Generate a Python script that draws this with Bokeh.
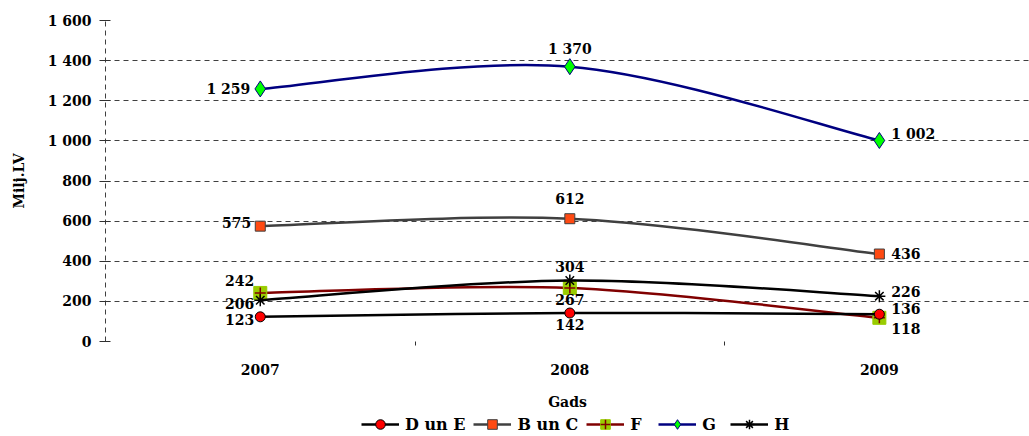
from bokeh.plotting import figure
from bokeh.layouts import column
from bokeh.models import Range1d, FixedTicker, Legend, LegendItem
from bokeh.core.properties import value
from bokeh.embed import file_html
from bokeh.resources import INLINE

# ---------------- data ----------------
years = ["2007", "2008", "2009"]
d_un_e = [123, 142, 136]
b_un_c = [575, 612, 436]
f_vals = [242, 267, 118]
g_vals = [1259, 1370, 1002]
h_vals = [206, 304, 226]
y_ticks = [0, 200, 400, 600, 800, 1000, 1200, 1400, 1600]
y_tick_labels = ["0", "200", "400", "600", "800", "1 000", "1 200", "1 400", "1 600"]
series_names = ["D un E", "B un C", "F", "G", "H"]

FONT = "DejaVu Serif"

def fmt(v):
    return f"{v:,}".replace(",", " ")

xs = list(range(len(years)))

p = figure(width=1029, height=412, output_backend="svg", toolbar_location=None,
           x_range=Range1d(-0.5, 2.485), y_range=Range1d(0, 1600),
           min_border_left=105, min_border_right=0, min_border_top=20, min_border_bottom=0)
p.outline_line_color = None
p.background_fill_color = "white"
p.border_fill_color = "white"

# axes
yax = p.yaxis[0]
yax.ticker = FixedTicker(ticks=y_ticks, minor_ticks=[])
yax.major_label_overrides = {t: l for t, l in zip(y_ticks, y_tick_labels)}
yax.axis_line_color = "#404040"
yax.axis_line_dash = "5 4"
yax.major_tick_in = 5
yax.major_tick_out = 6
yax.major_tick_line_color = "#303030"
yax.minor_tick_line_color = None
yax.major_label_standoff = 8
yax.major_label_text_font = FONT
yax.major_label_text_font_style = "bold"
yax.major_label_text_font_size = "14px"
yax.major_label_text_color = "black"
yax.axis_label = "Milj.LV"
yax.axis_label_text_font = FONT
yax.axis_label_text_font_style = "bold"
yax.axis_label_text_font_size = "14px"
yax.axis_label_standoff = 18
yax.axis_label_text_color = "black"

xax = p.xaxis[0]
xax.ticker = FixedTicker(ticks=xs, minor_ticks=[0.5, 1.5])
xax.major_label_overrides = {i: y for i, y in enumerate(years)}
xax.axis_line_color = None
xax.major_tick_line_color = None
xax.major_tick_in = 0
xax.major_tick_out = 0
xax.minor_tick_in = 0
xax.minor_tick_out = 4
xax.minor_tick_line_color = "#303030"
xax.major_label_standoff = 18
xax.major_label_text_font = FONT
xax.major_label_text_font_style = "bold"
xax.major_label_text_font_size = "14px"
xax.major_label_text_color = "black"
xax.axis_label = "Gads"
xax.axis_label_text_font = FONT
xax.axis_label_text_font_style = "bold"
xax.axis_label_text_font_size = "14px"
xax.axis_label_standoff = 16
xax.axis_label_text_color = "black"

p.xgrid.grid_line_color = None
p.ygrid.ticker = FixedTicker(ticks=y_ticks)
p.ygrid.grid_line_color = "#404040"
p.ygrid.grid_line_dash = "5 4"
p.ygrid.grid_line_width = 1


def bezier_parts(ys):
    n = len(ys)
    def pt(i):
        i = min(max(i, 0), n - 1)
        return xs[i], ys[i]
    out = dict(x0=[], y0=[], x1=[], y1=[], cx0=[], cy0=[], cx1=[], cy1=[])
    for i in range(n - 1):
        (xm, ym), (xa, ya), (xb, yb), (xp, yp) = pt(i - 1), pt(i), pt(i + 1), pt(i + 2)
        out["x0"].append(xa); out["y0"].append(ya)
        out["x1"].append(xb); out["y1"].append(yb)
        out["cx0"].append(xa + (xb - xm) / 6); out["cy0"].append(ya + (yb - ym) / 6)
        out["cx1"].append(xb - (xp - xa) / 6); out["cy1"].append(yb - (yp - ya) / 6)
    return out

styles = {
    "D un E": dict(line="black", markers=[dict(marker="circle", size=10, fill="#ff0000", line="#000000", lw=1)]),
    "B un C": dict(line="#404040", markers=[dict(marker="square", size=10, fill="#ff4a12", line="#404040", lw=1)]),
    "F": dict(line="#800000", markers=[dict(marker="square", size=13, fill="#99cc00", line="#99cc00", lw=1),
                                       dict(marker="cross", size=11, fill=None, line="#800000", lw=1.5)]),
    "G": dict(line="#000080", markers=[dict(marker="diamond", size=16, fill="#00ff00", line="#000080", lw=1)]),
    "H": dict(line="black", markers=[dict(marker="asterisk", size=12, fill=None, line="#000000", lw=1.5)]),
}
values = {"D un E": d_un_e, "B un C": b_un_c, "F": f_vals, "G": g_vals, "H": h_vals}

placements = {
    "G": [(-10, 0, "right"), (0, -18, "center"), (12, -6, "left")],
    "B un C": [(-9, -4, "right"), (0, -20, "center"), (12, -1, "left")],
    "F": [(-6, -12, "right"), (0, 12, "center"), (12, 11, "left")],
    "H": [(-6, 3, "right"), (0, -14, "center"), (12, -5, "left")],
    "D un E": [(-6, 3, "right"), (0, 11, "center"), (12, -6, "left")],
}

draw_order = ["B un C", "F", "H", "D un E", "G"]
for name in draw_order:
    st = styles[name]
    vals = values[name]
    bz = bezier_parts(vals)
    p.bezier(x0=bz["x0"], y0=bz["y0"], x1=bz["x1"], y1=bz["y1"],
             cx0=bz["cx0"], cy0=bz["cy0"], cx1=bz["cx1"], cy1=bz["cy1"],
             line_color=st["line"], line_width=2.5)
    for m in st["markers"]:
        p.scatter(x=xs, y=vals, marker=m["marker"], size=m["size"],
                  fill_color=m["fill"], line_color=m["line"], line_width=m["lw"])

for name in draw_order:
    vals = values[name]
    for i, v in enumerate(vals):
        dx, dy, al = placements[name][i]
        p.text(x=[xs[i]], y=[v], text=[fmt(v)], x_offset=dx, y_offset=dy,
               text_align=al, text_baseline="middle",
               text_font=value(FONT), text_font_style="bold", text_font_size="14px",
               text_color="black")

# ---------------- legend strip ----------------
lg = figure(width=1029, height=24, output_backend="svg", toolbar_location=None,
            x_range=Range1d(0, 1), y_range=Range1d(0, 1),
            min_border_left=0, min_border_right=0, min_border_top=0, min_border_bottom=0)
lg.axis.visible = False
lg.grid.visible = False
lg.outline_line_color = None
lg.background_fill_color = "white"
lg.border_fill_color = "white"

legend_renderers = {}
for name in series_names:
    st = styles[name]
    vals = values[name]
    ln = lg.line(x=xs, y=vals, line_color=st["line"], line_width=2.5)
    ln.visible = False
    rs = [ln]
    for m in st["markers"]:
        r = lg.scatter(x=xs, y=vals, marker=m["marker"], size=m["size"],
                       fill_color=m["fill"], line_color=m["line"], line_width=m["lw"])
        r.visible = False
        rs.append(r)
    legend_renderers[name] = rs

legend = Legend(items=[LegendItem(label=n, renderers=legend_renderers[n]) for n in series_names],
                orientation="horizontal", location=(256, 0))
legend.label_text_font = FONT
legend.label_text_font_style = "bold"
legend.label_text_font_size = "16px"
legend.label_text_color = "black"
legend.glyph_width = 38
legend.glyph_height = 24
legend.label_standoff = 6
legend.spacing = 8
legend.padding = 0
legend.margin = 0
legend.border_line_color = None
legend.background_fill_alpha = 0
lg.add_layout(legend, "center")

layout = column(p, lg, spacing=0)
open("out.html", "w").write(file_html(layout, INLINE))
